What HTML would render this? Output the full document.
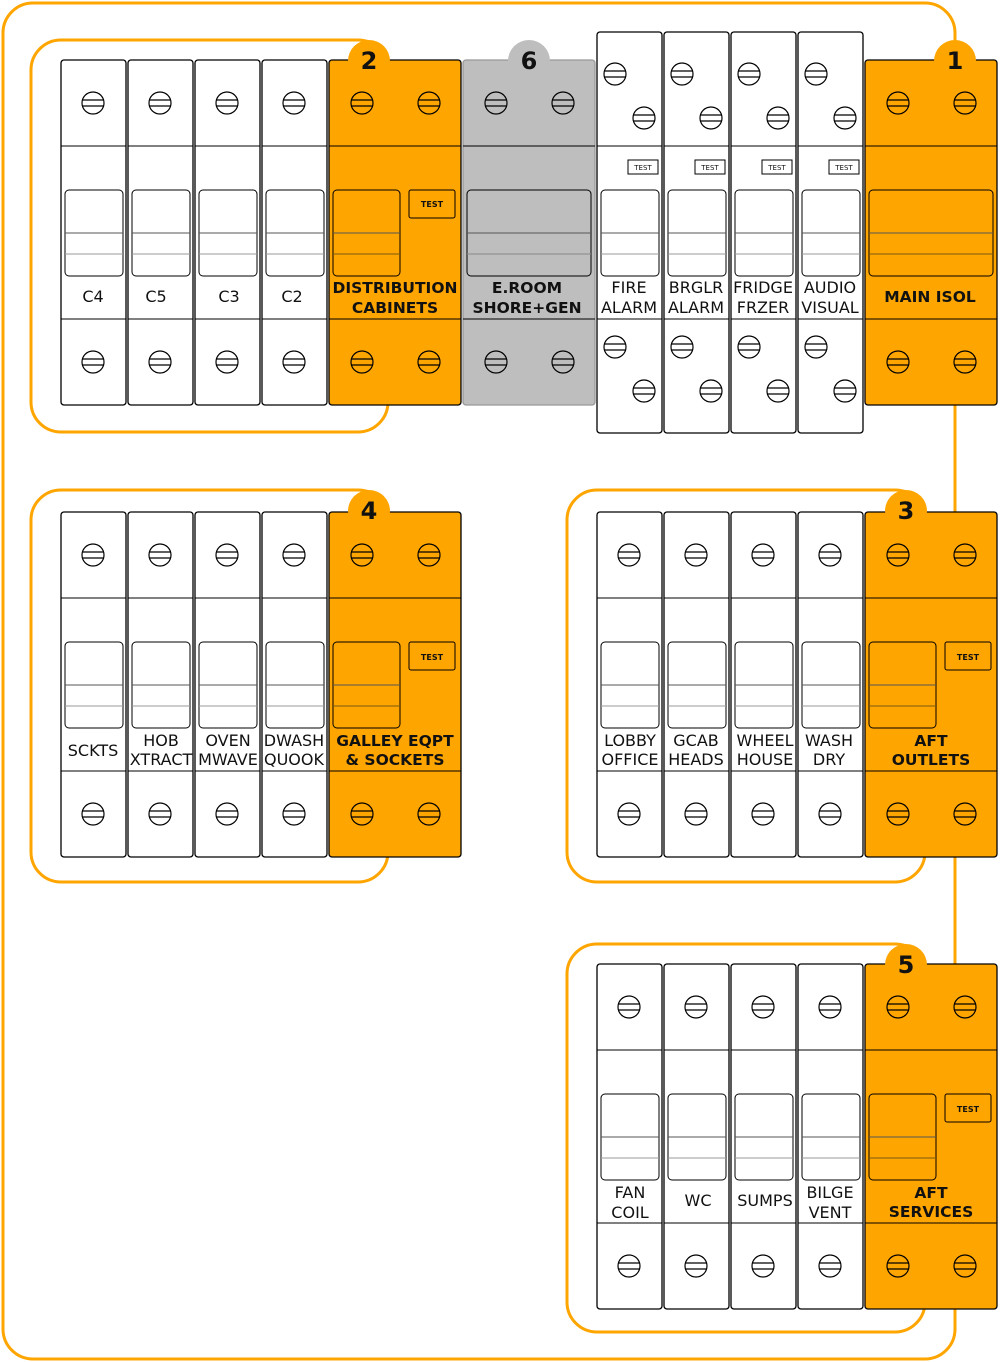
<!DOCTYPE html>
<html><head><meta charset="utf-8"><style>
html,body{margin:0;padding:0;background:#fff}
svg{display:block}
text{font-family:"DejaVu Sans","Liberation Sans",sans-serif}
.l{font-size:16px;text-anchor:middle;fill:#111}
.b{font-size:15.5px;font-weight:bold;text-anchor:middle;fill:#111}
.n{font-size:24px;font-weight:bold;text-anchor:middle;fill:#111}
.t{font-size:8px;font-weight:bold;text-anchor:middle;fill:#111}
.t2{font-size:7px;text-anchor:middle;fill:#111}
</style></head><body>
<svg width="1000" height="1362" viewBox="0 0 1000 1362" xmlns="http://www.w3.org/2000/svg">
<defs>
<g id="s"><circle r="11" fill="none" stroke="#000" stroke-width="1.2"/><line x1="-10.6" y1="-3" x2="10.6" y2="-3" stroke="#000" stroke-width="1.2"/><line x1="-10.6" y1="3" x2="10.6" y2="3" stroke="#000" stroke-width="1.2"/></g>
<g id="w1"><rect x="4" y="130" width="58" height="86" rx="4" fill="none" stroke="#000" stroke-width="1"/><line x1="4" y1="173" x2="62" y2="173" stroke="#555"/><line x1="4" y1="194" x2="62" y2="194" stroke="#999"/></g>
<g id="single"><rect x="0" y="0" width="65" height="345" rx="3" fill="#fff" stroke="#000" stroke-width="1.3"/><line x1="0" y1="86" x2="65" y2="86" stroke="#000"/><line x1="0" y1="259" x2="65" y2="259" stroke="#000"/><use href="#s" x="32" y="43"/><use href="#s" x="32" y="302"/><use href="#w1"/></g>
<g id="tall"><rect x="0" y="-28" width="65" height="401" rx="3" fill="#fff" stroke="#000" stroke-width="1.3"/><line x1="0" y1="86" x2="65" y2="86" stroke="#000"/><line x1="0" y1="259" x2="65" y2="259" stroke="#000"/><use href="#s" x="18" y="14"/><use href="#s" x="47" y="58"/><use href="#s" x="18" y="287"/><use href="#s" x="47" y="331"/><use href="#w1"/><rect x="31" y="100" width="30" height="14" fill="none" stroke="#000"/></g>
<g id="dbl"><rect x="0" y="0" width="132" height="345" rx="3" fill="#FFA500" stroke="#000" stroke-width="1.3"/><line x1="0" y1="86" x2="132" y2="86" stroke="#000"/><line x1="0" y1="259" x2="132" y2="259" stroke="#000"/><use href="#s" x="33" y="43"/><use href="#s" x="100" y="43"/><use href="#s" x="33" y="302"/><use href="#s" x="100" y="302"/><rect x="4" y="130" width="67" height="86" rx="4" fill="none" stroke="#000"/><line x1="4" y1="173" x2="71" y2="173" stroke="#555"/><line x1="4" y1="194" x2="71" y2="194" stroke="#7a5a10"/><rect x="80" y="130" width="46" height="28" rx="2" fill="none" stroke="#000"/></g>
</defs>

<rect x="3" y="3" width="952" height="1356" rx="30" fill="none" stroke="#FFA500" stroke-width="3"/>
<rect x="31" y="40" width="357" height="392" rx="30" fill="#fff" stroke="#FFA500" stroke-width="3"/>
<rect x="31" y="490" width="357" height="392" rx="30" fill="#fff" stroke="#FFA500" stroke-width="3"/>
<rect x="567" y="490" width="358" height="392" rx="30" fill="#fff" stroke="#FFA500" stroke-width="3"/>
<rect x="567" y="944" width="358" height="388" rx="30" fill="#fff" stroke="#FFA500" stroke-width="3"/>

<!-- ROW 1 -->
<g transform="translate(61,60)"><use href="#single"/><text class="l" x="32" y="242">C4</text></g>
<g transform="translate(128,60)"><use href="#single"/><text class="l" x="28" y="242">C5</text></g>
<g transform="translate(195,60)"><use href="#single"/><text class="l" x="34" y="242">C3</text></g>
<g transform="translate(262,60)"><use href="#single"/><text class="l" x="30" y="242">C2</text></g>
<g transform="translate(329,60)"><use href="#dbl"/><text class="t" x="103" y="147">TEST</text><text class="b" x="66" y="233">DISTRIBUTION</text><text class="b" x="66" y="253">CABINETS</text></g>
<g transform="translate(463,60)"><rect x="0" y="0" width="132" height="345" rx="3" fill="#BEBEBE" stroke="#999" stroke-width="1.3"/><line x1="0" y1="86" x2="132" y2="86" stroke="#000"/><line x1="0" y1="259" x2="132" y2="259" stroke="#000"/><use href="#s" x="33" y="43"/><use href="#s" x="100" y="43"/><use href="#s" x="33" y="302"/><use href="#s" x="100" y="302"/><rect x="4" y="130" width="124" height="86" rx="4" fill="none" stroke="#000"/><line x1="4" y1="173" x2="128" y2="173" stroke="#555"/><line x1="4" y1="194" x2="128" y2="194" stroke="#888"/><text class="b" x="64" y="233">E.ROOM</text><text class="b" x="64" y="253">SHORE+GEN</text></g>
<g transform="translate(597,60)"><use href="#tall"/><text class="t2" x="46" y="110">TEST</text><text class="l" x="32" y="233">FIRE</text><text class="l" x="32" y="253">ALARM</text></g>
<g transform="translate(664,60)"><use href="#tall"/><text class="t2" x="46" y="110">TEST</text><text class="l" x="32" y="233">BRGLR</text><text class="l" x="32" y="253">ALARM</text></g>
<g transform="translate(731,60)"><use href="#tall"/><text class="t2" x="46" y="110">TEST</text><text class="l" x="32" y="233">FRIDGE</text><text class="l" x="32" y="253">FRZER</text></g>
<g transform="translate(798,60)"><use href="#tall"/><text class="t2" x="46" y="110">TEST</text><text class="l" x="32" y="233">AUDIO</text><text class="l" x="32" y="253">VISUAL</text></g>
<g transform="translate(865,60)"><rect x="0" y="0" width="132" height="345" rx="3" fill="#FFA500" stroke="#000" stroke-width="1.3"/><line x1="0" y1="86" x2="132" y2="86" stroke="#000"/><line x1="0" y1="259" x2="132" y2="259" stroke="#000"/><use href="#s" x="33" y="43"/><use href="#s" x="100" y="43"/><use href="#s" x="33" y="302"/><use href="#s" x="100" y="302"/><rect x="4" y="130" width="124" height="86" rx="4" fill="none" stroke="#000"/><line x1="4" y1="173" x2="128" y2="173" stroke="#555"/><line x1="4" y1="194" x2="128" y2="194" stroke="#7a5a10"/><text class="b" x="65" y="242">MAIN ISOL</text></g>

<!-- ROW 2 left -->
<g transform="translate(61,512)"><use href="#single"/><text class="l" x="32" y="244">SCKTS</text></g>
<g transform="translate(128,512)"><use href="#single"/><text class="l" x="33" y="234">HOB</text><text class="l" x="33" y="253">XTRACT</text></g>
<g transform="translate(195,512)"><use href="#single"/><text class="l" x="33" y="234">OVEN</text><text class="l" x="33" y="253">MWAVE</text></g>
<g transform="translate(262,512)"><use href="#single"/><text class="l" x="32" y="234">DWASH</text><text class="l" x="32" y="253">QUOOK</text></g>
<g transform="translate(329,512)"><use href="#dbl"/><text class="t" x="103" y="148">TEST</text><text class="b" x="66" y="234">GALLEY EQPT</text><text class="b" x="66" y="253">&amp; SOCKETS</text></g>

<!-- ROW 2 right -->
<g transform="translate(597,512)"><use href="#single"/><text class="l" x="33" y="234">LOBBY</text><text class="l" x="33" y="253">OFFICE</text></g>
<g transform="translate(664,512)"><use href="#single"/><text class="l" x="32" y="234">GCAB</text><text class="l" x="32" y="253">HEADS</text></g>
<g transform="translate(731,512)"><use href="#single"/><text class="l" x="34" y="234">WHEEL</text><text class="l" x="34" y="253">HOUSE</text></g>
<g transform="translate(798,512)"><use href="#single"/><text class="l" x="31" y="234">WASH</text><text class="l" x="31" y="253">DRY</text></g>
<g transform="translate(865,512)"><use href="#dbl"/><text class="t" x="103" y="148">TEST</text><text class="b" x="66" y="234">AFT</text><text class="b" x="66" y="253">OUTLETS</text></g>

<!-- ROW 3 -->
<g transform="translate(597,964)"><use href="#single"/><text class="l" x="33" y="234">FAN</text><text class="l" x="33" y="254">COIL</text></g>
<g transform="translate(664,964)"><use href="#single"/><text class="l" x="34" y="242">WC</text></g>
<g transform="translate(731,964)"><use href="#single"/><text class="l" x="34" y="242">SUMPS</text></g>
<g transform="translate(798,964)"><use href="#single"/><text class="l" x="32" y="234">BILGE</text><text class="l" x="32" y="254">VENT</text></g>
<g transform="translate(865,964)"><use href="#dbl"/><text class="t" x="103" y="148">TEST</text><text class="b" x="66" y="234">AFT</text><text class="b" x="66" y="253">SERVICES</text></g>

<!-- badges on top -->
<circle cx="369" cy="61" r="21" fill="#FFA500"/>
<circle cx="529" cy="61" r="21" fill="#BEBEBE"/>
<circle cx="955" cy="61" r="21" fill="#FFA500"/>
<circle cx="369" cy="511" r="21" fill="#FFA500"/>
<circle cx="906" cy="511" r="21" fill="#FFA500"/>
<circle cx="906" cy="965" r="21" fill="#FFA500"/>
<text class="n" x="369" y="69">2</text>
<text class="n" x="529" y="69">6</text>
<text class="n" x="955" y="69">1</text>
<text class="n" x="369" y="519">4</text>
<text class="n" x="906" y="519">3</text>
<text class="n" x="906" y="973">5</text>
</svg>
</body></html>
